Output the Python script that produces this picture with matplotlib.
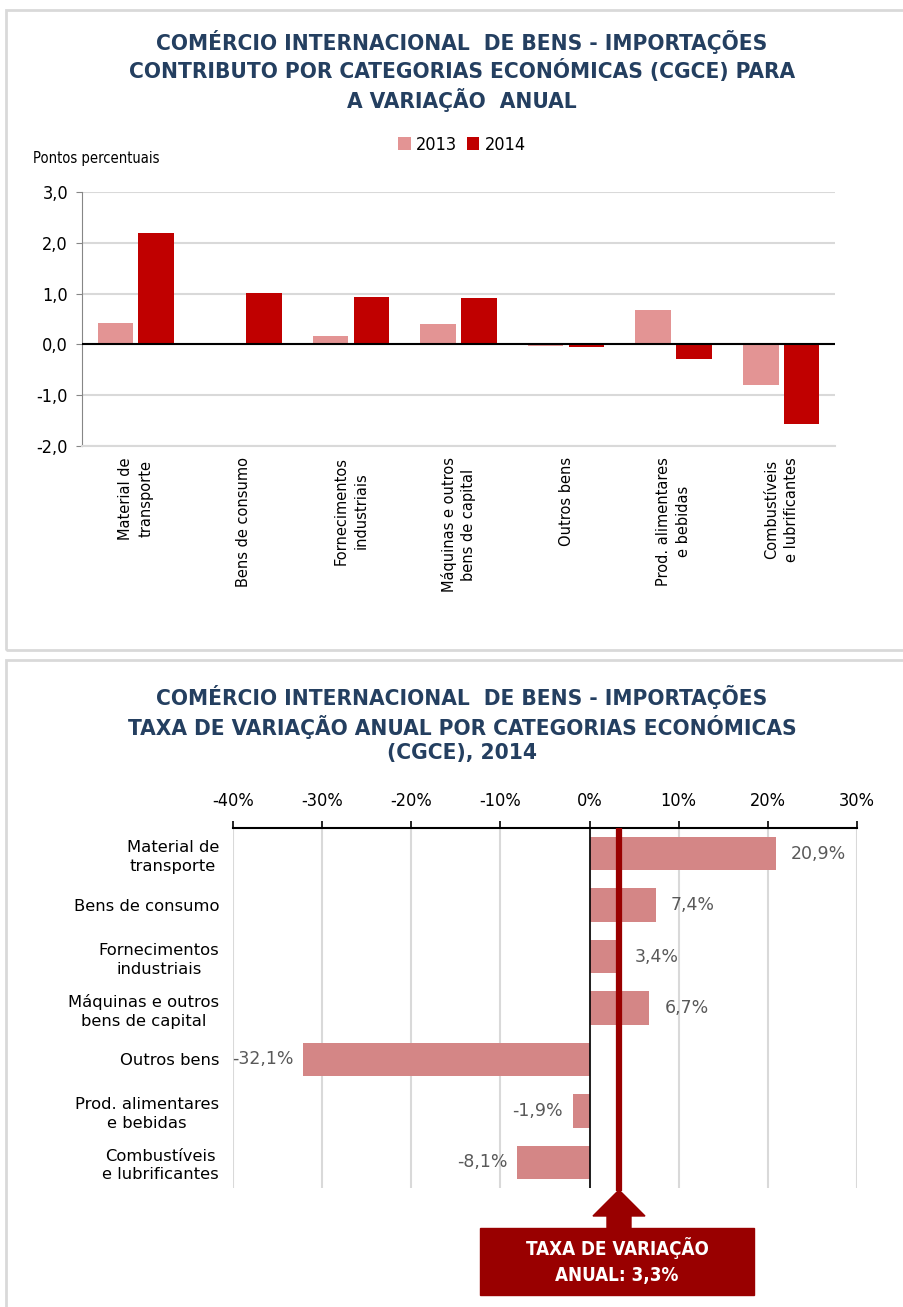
import matplotlib
matplotlib.use("Agg")
import matplotlib.pyplot as plt
from matplotlib.patches import Rectangle, Polygon
from matplotlib import font_manager
import numpy as np

# ---------------- data ----------------
categories_top = ["Material de\ntransporte", "Bens de consumo", "Fornecimentos\nindustriais",
                  "Máquinas e outros\nbens de capital", "Outros bens",
                  "Prod. alimentares\ne bebidas", "Combustíveis\ne lubrificantes"]
contrib_2013 = [0.42, 0.03, 0.17, 0.41, -0.03, 0.67, -0.79]
contrib_2014 = [2.20, 1.01, 0.94, 0.91, -0.05, -0.29, -1.57]
years = ["2013", "2014"]
yticks_top = [-2.0, -1.0, 0.0, 1.0, 2.0, 3.0]

categories_bottom = categories_top
rate_2014 = [20.9, 7.4, 3.4, 6.7, -32.1, -1.9, -8.1]
xticks_bottom = [-40, -30, -20, -10, 0, 10, 20, 30]
total_rate = 3.3

title_top = "COMÉRCIO INTERNACIONAL  DE BENS - IMPORTAÇÕES\nCONTRIBUTO POR CATEGORIAS ECONÓMICAS (CGCE) PARA\nA VARIAÇÃO  ANUAL"
title_bottom = "COMÉRCIO INTERNACIONAL  DE BENS - IMPORTAÇÕES\nTAXA DE VARIAÇÃO ANUAL POR CATEGORIAS ECONÓMICAS\n(CGCE), 2014"
box_text = "TAXA DE VARIAÇÃO\nANUAL: 3,3%"

# ---------------- style ----------------
W, H = 904, 1307
condensed_ok = any("Condensed" in f.fname and "DejaVu" in f.fname
                   for f in font_manager.fontManager.ttflist)
STRETCH = "condensed" if condensed_ok else "normal"
NARROW = ["DejaVu Sans"]
NAVY = "#243F60"
C2013 = "#E39494"
C2014 = "#C00000"
CBAR = "#D48686"
DARKRED = "#990000"
GRID = "#D9D9D9"
LABEL = "#595959"

TITLE_SIZE = 16.2 if condensed_ok else 14.3
TICK_SIZE = 13 if condensed_ok else 11.5

fig = plt.figure(figsize=(W / 100, H / 100), dpi=100)
fig.patch.set_facecolor("white")

def fx(x):
    return x / W

def fy(y):
    return 1 - y / H

def ax_rect(l, t, r, b):
    return [fx(l), fy(b), (r - l) / W, (b - t) / H]

# panel borders
for (l, t, r, b) in [(6, 10, 910, 650), (6, 660, 910, 1312)]:
    fig.add_artist(Rectangle((fx(l), fy(b)), (r - l) / W, (b - t) / H,
                             transform=fig.transFigure, fill=False,
                             edgecolor=GRID, linewidth=2))

# ---------------- top chart ----------------
fig.text(fx(462), fy(71), title_top, ha="center", va="center", color=NAVY,
         family=NARROW, fontstretch=STRETCH, fontweight="bold",
         fontsize=TITLE_SIZE, linespacing=1.3)

ax1 = fig.add_axes(ax_rect(82, 192, 835, 446))
x = np.arange(len(categories_top))
bw = 0.33
b13 = ax1.bar(x - bw / 2 - 0.025, contrib_2013, width=bw, color=C2013, label=years[0], zorder=3)
b14 = ax1.bar(x + bw / 2 + 0.025, contrib_2014, width=bw, color=C2014, label=years[1], zorder=3)
ax1.set_xlim(-0.5, len(categories_top) - 0.5)
ax1.set_ylim(-2.0, 3.0)
ax1.set_yticks(yticks_top)
ax1.set_yticklabels([f"{v:.1f}".replace(".", ",") for v in yticks_top],
                    family=NARROW, fontstretch=STRETCH, fontsize=TICK_SIZE)
ax1.yaxis.grid(True, color=GRID, linewidth=1.5, zorder=0)
ax1.axhline(0, color="black", linewidth=1.5, zorder=4)
ax1.set_xticks(x)
ax1.set_xticklabels(categories_top, rotation=90, ha="center", va="top",
                    multialignment="center", fontsize=10.5, family="DejaVu Sans",
                    linespacing=1.4)
ax1.tick_params(axis="x", length=0, pad=8)
ax1.tick_params(axis="y", length=4, color="#868686", pad=6)
for s in ["top", "right"]:
    ax1.spines[s].set_visible(False)
ax1.spines["left"].set_color("#868686")
ax1.spines["bottom"].set_color(GRID)
ax1.spines["bottom"].set_linewidth(1.5)

fig.text(fx(33), fy(158), "Pontos percentuais", ha="left", va="center",
         family=NARROW, fontstretch=STRETCH, fontsize=10.5)
fig.legend(handles=[b13, b14], labels=years, loc="center",
           bbox_to_anchor=(fx(462), fy(145)), ncol=2, frameon=False,
           prop={"family": NARROW, "size": TICK_SIZE, "stretch": STRETCH},
           handlelength=0.7, handleheight=0.7, handletextpad=0.3,
           columnspacing=0.5)

# ---------------- bottom chart ----------------
fig.text(fx(462), fy(724), title_bottom, ha="center", va="center", color=NAVY,
         family=NARROW, fontstretch=STRETCH, fontweight="bold",
         fontsize=TITLE_SIZE, linespacing=1.3)

ax2 = fig.add_axes(ax_rect(233, 828, 857, 1188))
y = np.arange(len(categories_bottom))
ax2.barh(y, rate_2014, height=0.65, color=CBAR, zorder=3)
ax2.set_ylim(len(categories_bottom) - 0.5, -0.5)
ax2.set_xlim(-40, 30)
ax2.set_xticks(xticks_bottom)
ax2.set_xticklabels([f"{v}%" for v in xticks_bottom], family=NARROW,
                    fontstretch=STRETCH, fontsize=TICK_SIZE)
ax2.xaxis.tick_top()
ax2.xaxis.grid(True, color=GRID, linewidth=1.5, zorder=0)
ax2.tick_params(axis="x", length=5, width=1.2, pad=8)
ax2.set_yticks(y)
ax2.set_yticklabels(categories_bottom, ha="right", multialignment="center",
                    fontsize=11.8, family="DejaVu Sans", linespacing=1.3)
ax2.tick_params(axis="y", length=0, pad=10)
for s in ["bottom", "right", "left"]:
    ax2.spines[s].set_visible(False)
ax2.spines["top"].set_linewidth(1.5)
ax2.axvline(0, color="black", linewidth=1.2, zorder=4)

for yi, v in zip(y, rate_2014):
    lab = f"{v:.1f}%".replace(".", ",")
    if v >= 0:
        ax2.annotate(lab, (v, yi), xytext=(11, 0), textcoords="offset points",
                     ha="left", va="center", color=LABEL, fontsize=12.5)
    else:
        ax2.annotate(lab, (v, yi), xytext=(-7, 0), textcoords="offset points",
                     ha="right", va="center", color=LABEL, fontsize=12.5)

# total-rate line
ax2.plot([total_rate, total_rate], [-0.5, len(categories_bottom) - 0.5 + 0.05],
         color=DARKRED, linewidth=4.5, zorder=5, clip_on=False,
         solid_capstyle="butt")

# arrow + box, centred on the line's data x position
fig.canvas.draw()
xc = ax2.transData.transform((total_rate, 0))[0]  # pixels from left
arrow = Polygon([(fx(xc), fy(1190)), (fx(xc + 26), fy(1216)), (fx(xc + 12), fy(1216)),
                 (fx(xc + 12), fy(1229)), (fx(xc - 12), fy(1229)),
                 (fx(xc - 12), fy(1216)), (fx(xc - 26), fy(1216))],
                closed=True, transform=fig.transFigure, color=DARKRED)
fig.add_artist(arrow)
fig.add_artist(Rectangle((fx(480), fy(1295)), (754 - 480) / W, (1295 - 1228) / H,
                         transform=fig.transFigure, color=DARKRED))
fig.text(fx(617), fy(1261), box_text, ha="center", va="center", color="white",
         fontweight="bold", fontsize=13.5, family="DejaVu Sans",
         fontstretch=STRETCH, linespacing=1.45)

fig.savefig("out.png", dpi=100)
